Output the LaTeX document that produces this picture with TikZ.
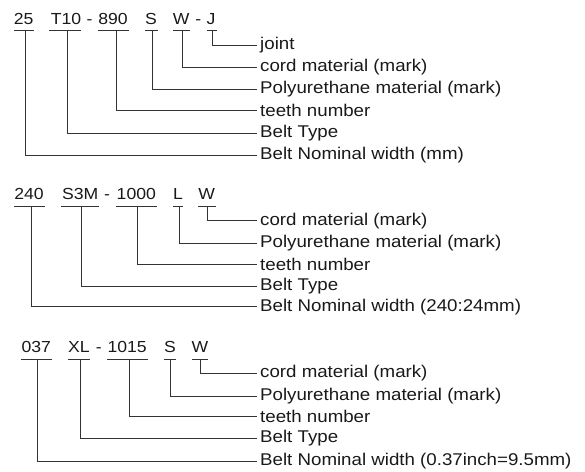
\documentclass[tikz,border=0pt]{standalone}
\usepackage{fontspec}
\setmainfont[FakeStretch=1.1]{Liberation Sans}
\begin{document}
\begin{tikzpicture}[x=1pt,y=-1pt,
  code/.style={anchor=base,inner sep=0pt,font=\fontsize{16}{19}\selectfont,text=black!90},
  lab/.style={anchor=west,inner xsep=3pt,inner ysep=0pt,font=\fontsize{17}{20}\selectfont,text=black!90},
  ln/.style={draw=black!80,line width=0.9pt}]
\useasboundingbox (0,0) rectangle (585,471);
% ---------- block 1 ----------
\node[code] (a1) at (23.7,24) {25};
\node[code] (a2) at (66,24) {T10};
\node[code] (h1) at (89.5,24) {-};
\node[code] (a3) at (113,24) {890};
\node[code] (a4) at (151,24) {S};
\node[code] (a5) at (181.3,24) {W};
\node[code] (h2) at (198.3,24) {-};
\node[code] (a6) at (211,24) {J};
\foreach \n/\l/\r in {a1/14/34,a2/49/81,a3/98/129,a4/145/158,a5/173/190,a6/207/217}
  \draw[ln] (\l,30.7) -- (\r,30.7);
\coordinate (c1) at (25,30.7);
\coordinate (c2) at (67,30.7);
\coordinate (c3) at (116,30.7);
\coordinate (c4) at (152,30.7);
\coordinate (c5) at (182,30.7);
\coordinate (c6) at (212,30.7);
\node[lab] (l6) at (257,45) {joint};
\node[lab] (l5) at (257,67.5) {cord material (mark)};
\node[lab] (l4) at (257,89) {Polyurethane material (mark)};
\node[lab] (l3) at (257,110.5) {teeth number};
\node[lab] (l2) at (257,133) {Belt Type};
\node[lab] (l1) at (257,155) {Belt Nominal width (mm)};
\foreach \i in {1,...,6} \draw[ln] (l\i.west) -| (c\i);
% ---------- block 2 ----------
\node[code] (b1) at (29,199.5) {240};
\node[code] (b2) at (80.3,199.5) {S3M};
\node[code] (h3) at (107,199.5) {-};
\node[code] (b3) at (136.3,199.5) {1000};
\node[code] (b4) at (178,199.5) {L};
\node[code] (b5) at (206.7,199.5) {W};
\foreach \l/\r in {14/45,61/99,116/157,173/183,198/216}
  \draw[ln] (\l,206.7) -- (\r,206.7);
\coordinate (d1) at (31.7,206.7);
\coordinate (d2) at (81.7,206.7);
\coordinate (d3) at (137,206.7);
\coordinate (d4) at (179,206.7);
\coordinate (d5) at (207.7,206.7);
\node[lab] (m5) at (257,220.7) {cord material (mark)};
\node[lab] (m4) at (257,243.3) {Polyurethane material (mark)};
\node[lab] (m3) at (257,264.5) {teeth number};
\node[lab] (m2) at (257,286) {Belt Type};
\node[lab] (m1) at (257,306.7) {Belt Nominal width (240:24mm)};
\foreach \i in {1,...,5} \draw[ln] (m\i.west) -| (d\i);
% ---------- block 3 ----------
\node[code] (e1) at (36.2,352) {037};
\node[code] (e2) at (78.8,352) {XL};
\node[code] (h4) at (98.8,352) {-};
\node[code] (e3) at (127.2,352) {1015};
\node[code] (e4) at (170,352) {S};
\node[code] (e5) at (200,352) {W};
\foreach \l/\r in {21/52,68/90,107/148,164/176,192/208}
  \draw[ln] (\l,359.3) -- (\r,359.3);
\coordinate (f1) at (37.3,359.3);
\coordinate (f2) at (80,359.3);
\coordinate (f3) at (129,359.3);
\coordinate (f4) at (170.7,359.3);
\coordinate (f5) at (200,359.3);
\node[lab] (n5) at (257,373.3) {cord material (mark)};
\node[lab] (n4) at (257,396) {Polyurethane material (mark)};
\node[lab] (n3) at (257,416.7) {teeth number};
\node[lab] (n2) at (257,438.3) {Belt Type};
\node[lab] (n1) at (257,461) {Belt Nominal width (0.37inch=9.5mm)};
\foreach \i in {1,...,5} \draw[ln] (n\i.west) -| (f\i);
\end{tikzpicture}
\end{document}
